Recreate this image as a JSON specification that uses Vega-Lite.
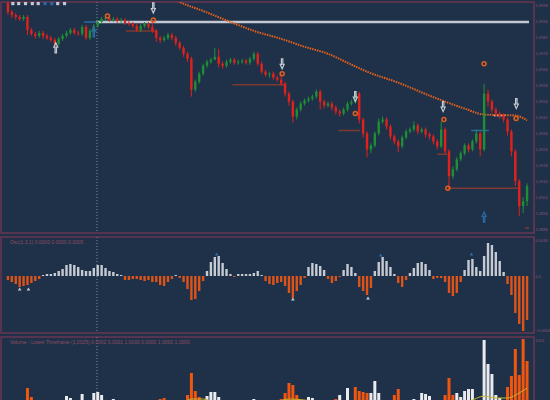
{
"$schema":"https://vega.github.io/schema/vega-lite/v6.json",
"background":"#1e3148",
"padding":0,
"spacing":0,
"config":{"view":{"stroke":"#6a3452","strokeWidth":1.5},"axis":{"labelFont":"Liberation Sans","labelFontSize":4,"labelColor":"#8a5670","domainColor":"#5e3450","ticks":false,"grid":false,"labelPadding":1},"text":{"font":"Liberation Sans"}},
"datasets":{
"bars":[
{"i":0,"o":10999.5,"h":11000,"l":10993.5,"c":10995,"osc":-4},
{"i":1,"o":10995,"h":10996,"l":10992,"c":10993.5,"osc":-6},
{"i":2,"o":10993.5,"h":10994.5,"l":10991,"c":10992.5,"osc":-8},
{"i":3,"o":10992.5,"h":10993.5,"l":10990.5,"c":10991.5,"osc":-11},
{"i":4,"o":10991.5,"h":10993.5,"l":10990.5,"c":10992.5,"osc":-10},
{"i":5,"o":10992.5,"h":10993.5,"l":10983.5,"c":10986,"osc":-9},
{"i":6,"o":10986,"h":10987,"l":10983,"c":10984,"osc":-7},
{"i":7,"o":10984,"h":10985,"l":10981.5,"c":10983,"osc":-5},
{"i":8,"o":10983,"h":10985.5,"l":10982,"c":10984.5,"osc":-3},
{"i":9,"o":10984.5,"h":10985.5,"l":10981.5,"c":10983,"osc":1},
{"i":10,"o":10983,"h":10984,"l":10981,"c":10982,"osc":2},
{"i":11,"o":10982,"h":10983,"l":10980,"c":10981,"osc":2},
{"i":12,"o":10981,"h":10982,"l":10977.5,"c":10979,"osc":3},
{"i":13,"o":10979,"h":10982.5,"l":10978,"c":10981.5,"osc":5},
{"i":14,"o":10981.5,"h":10984,"l":10980.5,"c":10983,"osc":7},
{"i":15,"o":10983,"h":10985.5,"l":10982,"c":10984.5,"osc":11},
{"i":16,"o":10984.5,"h":10987,"l":10983.5,"c":10986,"osc":12},
{"i":17,"o":10986,"h":10987,"l":10983.5,"c":10984.5,"osc":11},
{"i":18,"o":10984.5,"h":10985.5,"l":10983,"c":10984,"osc":9},
{"i":19,"o":10984,"h":10988.5,"l":10983,"c":10987.5,"osc":6},
{"i":20,"o":10987.5,"h":10988.5,"l":10981,"c":10982,"osc":5},
{"i":21,"o":10982,"h":10986.5,"l":10981,"c":10985.5,"osc":5},
{"i":22,"o":10985.5,"h":10989,"l":10984.5,"c":10988,"osc":8},
{"i":23,"o":10988,"h":10991,"l":10987,"c":10990,"osc":11},
{"i":24,"o":10990,"h":10992.5,"l":10989,"c":10991.5,"osc":11},
{"i":25,"o":10991.5,"h":10993,"l":10990.5,"c":10992,"osc":8},
{"i":26,"o":10992,"h":10993,"l":10990,"c":10991,"osc":5},
{"i":27,"o":10991,"h":10992.5,"l":10990,"c":10991.5,"osc":4},
{"i":28,"o":10991.5,"h":10992.5,"l":10989.5,"c":10990.5,"osc":2},
{"i":29,"o":10990.5,"h":10992,"l":10989.5,"c":10991,"osc":1},
{"i":30,"o":10991,"h":10992,"l":10988.5,"c":10989.5,"osc":-4},
{"i":31,"o":10989.5,"h":10990.5,"l":10988,"c":10989,"osc":-4},
{"i":32,"o":10989,"h":10990,"l":10987,"c":10988,"osc":-3},
{"i":33,"o":10988,"h":10989,"l":10985,"c":10986,"osc":-3},
{"i":34,"o":10986,"h":10989,"l":10985,"c":10988,"osc":-4},
{"i":35,"o":10988,"h":10990,"l":10987,"c":10989,"osc":-5},
{"i":36,"o":10989,"h":10990,"l":10986.5,"c":10987.5,"osc":-4},
{"i":37,"o":10987.5,"h":10991,"l":10984.5,"c":10985.5,"osc":-6},
{"i":38,"o":10985.5,"h":10986.5,"l":10980,"c":10982,"osc":-6},
{"i":39,"o":10982,"h":10983,"l":10979.5,"c":10981,"osc":-9},
{"i":40,"o":10981,"h":10983,"l":10980,"c":10982,"osc":-10},
{"i":41,"o":10982,"h":10984.5,"l":10981,"c":10983.5,"osc":-6},
{"i":42,"o":10983.5,"h":10984.5,"l":10981,"c":10982,"osc":-3},
{"i":43,"o":10982,"h":10983,"l":10978,"c":10979.5,"osc":1},
{"i":44,"o":10979.5,"h":10980.5,"l":10976,"c":10977,"osc":-2},
{"i":45,"o":10977,"h":10978,"l":10972.5,"c":10974,"osc":-6},
{"i":46,"o":10974,"h":10975,"l":10970,"c":10971.5,"osc":-13},
{"i":47,"o":10971.5,"h":10972.5,"l":10952.5,"c":10956,"osc":-24},
{"i":48,"o":10956,"h":10961,"l":10955,"c":10960,"osc":-23},
{"i":49,"o":10960,"h":10965,"l":10959,"c":10964,"osc":-15},
{"i":50,"o":10964,"h":10969,"l":10963,"c":10968,"osc":-5},
{"i":51,"o":10968,"h":10971,"l":10967,"c":10970,"osc":5},
{"i":52,"o":10970,"h":10972,"l":10969,"c":10971,"osc":14},
{"i":53,"o":10971,"h":10977,"l":10971,"c":10972.5,"osc":19},
{"i":54,"o":10972.5,"h":10976.5,"l":10967,"c":10969,"osc":20},
{"i":55,"o":10969,"h":10970,"l":10966.5,"c":10968,"osc":13},
{"i":56,"o":10968,"h":10971,"l":10967,"c":10970,"osc":7},
{"i":57,"o":10970,"h":10972,"l":10969,"c":10971,"osc":2},
{"i":58,"o":10971,"h":10972,"l":10968.5,"c":10969.5,"osc":-1},
{"i":59,"o":10969.5,"h":10971,"l":10968.5,"c":10970,"osc":2},
{"i":60,"o":10970,"h":10971.5,"l":10969,"c":10970.5,"osc":2},
{"i":61,"o":10970.5,"h":10971.5,"l":10968.5,"c":10969.5,"osc":2},
{"i":62,"o":10969.5,"h":10972.5,"l":10968.5,"c":10971.5,"osc":2},
{"i":63,"o":10971.5,"h":10975,"l":10970.5,"c":10974,"osc":3},
{"i":64,"o":10974,"h":10975,"l":10968,"c":10969,"osc":5},
{"i":65,"o":10969,"h":10970,"l":10964,"c":10965,"osc":1},
{"i":66,"o":10965,"h":10966,"l":10962.5,"c":10963.5,"osc":-5},
{"i":67,"o":10963.5,"h":10965,"l":10962,"c":10964,"osc":-8},
{"i":68,"o":10964,"h":10965,"l":10961,"c":10962,"osc":-9},
{"i":69,"o":10962,"h":10963,"l":10960,"c":10961,"osc":-7},
{"i":70,"o":10961,"h":10964,"l":10958,"c":10959,"osc":-6},
{"i":71,"o":10959,"h":10960,"l":10952.5,"c":10954,"osc":-10},
{"i":72,"o":10954,"h":10955,"l":10948,"c":10950,"osc":-17},
{"i":73,"o":10950,"h":10951,"l":10939.5,"c":10942.5,"osc":-22},
{"i":74,"o":10942.5,"h":10947,"l":10941,"c":10946,"osc":-15},
{"i":75,"o":10946,"h":10950,"l":10945,"c":10949,"osc":-9},
{"i":76,"o":10949,"h":10951.5,"l":10948,"c":10950.5,"osc":-2},
{"i":77,"o":10950.5,"h":10952.5,"l":10949.5,"c":10951.5,"osc":9},
{"i":78,"o":10951.5,"h":10953.5,"l":10950.5,"c":10952.5,"osc":13},
{"i":79,"o":10952.5,"h":10956,"l":10951.5,"c":10955,"osc":12},
{"i":80,"o":10955,"h":10956,"l":10946,"c":10950,"osc":10},
{"i":81,"o":10950,"h":10951,"l":10946.5,"c":10948,"osc":6},
{"i":82,"o":10948,"h":10950,"l":10947,"c":10949,"osc":-3},
{"i":83,"o":10949,"h":10950,"l":10945.5,"c":10947,"osc":-7},
{"i":84,"o":10947,"h":10948,"l":10943.5,"c":10945,"osc":-5},
{"i":85,"o":10945,"h":10946,"l":10942.5,"c":10944,"osc":-1},
{"i":86,"o":10944,"h":10947,"l":10943,"c":10946,"osc":6},
{"i":87,"o":10946,"h":10950,"l":10945,"c":10949,"osc":12},
{"i":88,"o":10949,"h":10951,"l":10948,"c":10950,"osc":9},
{"i":89,"o":10950,"h":10955,"l":10949,"c":10954,"osc":3},
{"i":90,"o":10954,"h":10955,"l":10939,"c":10941,"osc":-11},
{"i":91,"o":10941,"h":10942,"l":10932,"c":10934,"osc":-15},
{"i":92,"o":10934,"h":10935,"l":10922,"c":10926,"osc":-19},
{"i":93,"o":10926,"h":10929,"l":10924,"c":10928,"osc":-12},
{"i":94,"o":10928,"h":10935,"l":10927,"c":10934,"osc":5},
{"i":95,"o":10934,"h":10941.5,"l":10933,"c":10940,"osc":14},
{"i":96,"o":10940,"h":10942.5,"l":10939,"c":10941,"osc":19},
{"i":97,"o":10941,"h":10942,"l":10936,"c":10937.5,"osc":15},
{"i":98,"o":10937.5,"h":10938.5,"l":10931,"c":10932.5,"osc":9},
{"i":99,"o":10932.5,"h":10933.5,"l":10928.5,"c":10930,"osc":2},
{"i":100,"o":10930,"h":10931,"l":10924.5,"c":10927.5,"osc":-7},
{"i":101,"o":10927.5,"h":10933,"l":10926.5,"c":10932,"osc":-11},
{"i":102,"o":10932,"h":10936,"l":10931,"c":10935,"osc":-4},
{"i":103,"o":10935,"h":10937,"l":10934,"c":10936,"osc":3},
{"i":104,"o":10936,"h":10940,"l":10935,"c":10938,"osc":8},
{"i":105,"o":10938,"h":10939,"l":10933.5,"c":10935,"osc":13},
{"i":106,"o":10935,"h":10937,"l":10934,"c":10936,"osc":14},
{"i":107,"o":10936,"h":10937,"l":10932,"c":10933.5,"osc":12},
{"i":108,"o":10933.5,"h":10934.5,"l":10931,"c":10932.5,"osc":6},
{"i":109,"o":10932.5,"h":10933.5,"l":10928.5,"c":10930,"osc":-3},
{"i":110,"o":10930,"h":10931,"l":10926,"c":10927.5,"osc":-2},
{"i":111,"o":10927.5,"h":10940,"l":10926.5,"c":10936,"osc":-2},
{"i":112,"o":10936,"h":10937,"l":10923.5,"c":10925,"osc":-6},
{"i":113,"o":10925,"h":10926,"l":10906,"c":10912.5,"osc":-17},
{"i":114,"o":10912.5,"h":10917.5,"l":10911,"c":10916,"osc":-20},
{"i":115,"o":10916,"h":10922,"l":10915,"c":10921,"osc":-17},
{"i":116,"o":10921,"h":10925,"l":10920,"c":10924,"osc":-6},
{"i":117,"o":10924,"h":10929,"l":10923,"c":10928,"osc":6},
{"i":118,"o":10928,"h":10929,"l":10924.5,"c":10926,"osc":16},
{"i":119,"o":10926,"h":10931,"l":10925,"c":10930,"osc":17},
{"i":120,"o":10930,"h":10936,"l":10929,"c":10934,"osc":9},
{"i":121,"o":10934,"h":10935,"l":10922.5,"c":10926,"osc":5},
{"i":122,"o":10926,"h":10959,"l":10925,"c":10954,"osc":20},
{"i":123,"o":10954,"h":10956,"l":10947.5,"c":10950,"osc":33},
{"i":124,"o":10950,"h":10951,"l":10944.5,"c":10946,"osc":31},
{"i":125,"o":10946,"h":10947,"l":10942.5,"c":10944,"osc":24},
{"i":126,"o":10944,"h":10945,"l":10941.5,"c":10943,"osc":15},
{"i":127,"o":10943,"h":10944,"l":10939.5,"c":10941,"osc":4},
{"i":128,"o":10941,"h":10942,"l":10933,"c":10935,"osc":-8},
{"i":129,"o":10935,"h":10936,"l":10922.5,"c":10925,"osc":-19},
{"i":130,"o":10925,"h":10926,"l":10907.5,"c":10910,"osc":-37},
{"i":131,"o":10910,"h":10911,"l":10892.5,"c":10897.5,"osc":-48},
{"i":132,"o":10897.5,"h":10902,"l":10894,"c":10900,"osc":-55},
{"i":133,"o":10900,"h":10909,"l":10897.5,"c":10907.5,"osc":-44}
],
"ma":[{"i":43,"p":11001},{"i":44,"p":11000},{"i":50,"p":10995.5},{"i":57,"p":10990},{"i":63,"p":10985.5},{"i":70,"p":10981.5},{"i":76,"p":10977.5},{"i":82,"p":10974},{"i":87,"p":10969.5},{"i":92,"p":10965},{"i":100,"p":10959.5},{"i":108,"p":10953},{"i":117,"p":10946.5},{"i":122,"p":10943.5},{"i":130,"p":10943},{"i":133,"p":10940.5}],
"levels":[{"a":19.5,"b":22.7,"p":10990,"k":"blue"},{"a":22.7,"b":133.5,"p":10990,"k":"white"},{"a":30.2,"b":38.2,"p":10985.5,"k":"brown"},{"a":57.5,"b":71.2,"p":10958.5,"k":"brown"},{"a":84.7,"b":90.2,"p":10935.5,"k":"brown"},{"a":110,"b":112.5,"p":10923.5,"k":"brown"},{"a":112.7,"b":131.2,"p":10906.5,"k":"brown"},{"a":132.5,"b":133.5,"p":10886.5,"k":"brown"},{"a":118.7,"b":123.2,"p":10935.5,"k":"blue"},{"a":124.5,"b":127.5,"p":10943,"k":"dash"}],
"arrows":[{"i":37.25,"p":10997,"d":"down","k":"white"},{"i":70.25,"p":10969,"d":"down","k":"white"},{"i":89,"p":10952.5,"d":"down","k":"white"},{"i":111.5,"p":10947.5,"d":"down","k":"white"},{"i":130.25,"p":10949,"d":"down","k":"white"},{"i":12.25,"p":10977,"d":"up","k":"white"},{"i":22,"p":10985,"d":"up","k":"blue"},{"i":122,"p":10892,"d":"up","k":"blue"}],
"rings":[{"i":25.5,"p":10993},{"i":37.25,"p":10991},{"i":70.25,"p":10964},{"i":89,"p":10944},{"i":111.7,"p":10941},{"i":122,"p":10969},{"i":112.7,"p":10906.5},{"i":130.2,"p":10941.5}],
"squares":[{"i":1.25,"t":"yellow"},{"i":2.75,"t":"yellow"},{"i":4.5,"t":"white"},{"i":6.25,"t":"white"},{"i":7.75,"t":"yellow"},{"i":9.5,"t":"orange"},{"i":11.25,"t":"orange"},{"i":12.75,"t":"yellow"},{"i":14.5,"t":"white"}],
"oscmarks":[{"i":3,"osc":-13,"k":"white"},{"i":5.25,"osc":-13,"k":"white"},{"i":73,"osc":-23,"k":"white"},{"i":92.25,"osc":-22,"k":"white"},{"i":53.5,"osc":22,"k":"orange"},{"i":95.5,"osc":21,"k":"orange"},{"i":118.75,"osc":22,"k":"orange"}],
"volume":[{"i":1,"v":5,"s":"sell"},{"i":2,"v":3,"s":"buy"},{"i":5,"v":17,"s":"sell"},{"i":6,"v":8,"s":"sell"},{"i":15,"v":9,"s":"buy"},{"i":16,"v":7,"s":"buy"},{"i":19,"v":11,"s":"buy"},{"i":22,"v":12,"s":"buy"},{"i":23,"v":13,"s":"buy"},{"i":24,"v":10,"s":"buy"},{"i":27,"v":6,"s":"buy"},{"i":39,"v":6,"s":"sell"},{"i":40,"v":7,"s":"sell"},{"i":46,"v":10,"s":"sell"},{"i":47,"v":32,"s":"sell"},{"i":48,"v":14,"s":"sell"},{"i":49,"v":8,"s":"sell"},{"i":51,"v":9,"s":"buy"},{"i":52,"v":13,"s":"buy"},{"i":53,"v":13,"s":"buy"},{"i":54,"v":8,"s":"buy"},{"i":63,"v":6,"s":"buy"},{"i":70,"v":6,"s":"sell"},{"i":71,"v":12,"s":"sell"},{"i":72,"v":22,"s":"sell"},{"i":73,"v":20,"s":"sell"},{"i":74,"v":10,"s":"sell"},{"i":76,"v":4,"s":"buy"},{"i":77,"v":8,"s":"buy"},{"i":78,"v":7,"s":"buy"},{"i":82,"v":4,"s":"buy"},{"i":84,"v":6,"s":"sell"},{"i":85,"v":10,"s":"buy"},{"i":87,"v":17,"s":"buy"},{"i":89,"v":18,"s":"sell"},{"i":90,"v":14,"s":"sell"},{"i":91,"v":13,"s":"sell"},{"i":92,"v":12,"s":"sell"},{"i":93,"v":12,"s":"buy"},{"i":94,"v":24,"s":"buy"},{"i":95,"v":12,"s":"buy"},{"i":99,"v":10,"s":"sell"},{"i":100,"v":16,"s":"sell"},{"i":104,"v":6,"s":"buy"},{"i":106,"v":12,"s":"buy"},{"i":107,"v":11,"s":"buy"},{"i":108,"v":9,"s":"buy"},{"i":110,"v":4,"s":"buy"},{"i":112,"v":10,"s":"sell"},{"i":113,"v":27,"s":"sell"},{"i":114,"v":10,"s":"sell"},{"i":115,"v":12,"s":"buy"},{"i":116,"v":8,"s":"buy"},{"i":117,"v":14,"s":"buy"},{"i":118,"v":16,"s":"buy"},{"i":119,"v":16,"s":"buy"},{"i":121,"v":5,"s":"buy"},{"i":122,"v":65,"s":"buy"},{"i":123,"v":41,"s":"buy"},{"i":124,"v":31,"s":"buy"},{"i":125,"v":10,"s":"buy"},{"i":126,"v":7,"s":"buy"},{"i":128,"v":18,"s":"sell"},{"i":129,"v":29,"s":"sell"},{"i":130,"v":56,"s":"sell"},{"i":131,"v":30,"s":"sell"},{"i":132,"v":66,"s":"sell"},{"i":133,"v":44,"s":"sell"}],
"volma":[{"i":45,"v":2},{"i":47,"v":6},{"i":50,"v":6},{"i":53,"v":3},{"i":68,"v":3},{"i":72,"v":6},{"i":76,"v":5},{"i":80,"v":3},{"i":112,"v":3},{"i":118,"v":4},{"i":122,"v":9},{"i":125,"v":7},{"i":128,"v":7},{"i":131,"v":12},{"i":133,"v":17}],
"labels2":[{"i":0.5,"osc":34,"t":"Osc(1,3,1) 0.0000 0.0000 0.0005"}],
"labels3":[{"i":0.5,"v":63,"t":"Volume - Lower Timeframe (1,0025) 0.0002 0.0001 1.0000 0.0000 1.0000 1.0000"}]
},
"vconcat":[
{"width":533,"height":231,
"layer":[
{"data":{"name":"squares"},"mark":{"type":"rule","strokeDash":[1,2],"color":"#56627a"},"encoding":{"x":{"datum":22.75,"type":"quantitative","scale":{"domain":[-0.5,133.5],"nice":false,"zero":false},"axis":null}}},
{"data":{"name":"levels"},"mark":{"type":"rule"},"encoding":{
"x":{"field":"a","type":"quantitative","scale":{"domain":[-0.5,133.5],"nice":false,"zero":false},"axis":null},
"x2":{"field":"b"},
"y":{"field":"p","type":"quantitative","scale":{"domain":[10884,11000],"nice":false,"zero":false},"title":null,"axis":{"orient":"right","values":[10998,10990,10982,10974,10966,10958,10950,10942,10934,10926,10918,10910,10902,10894,10886],"labelExpr":"format(datum.value/10000,'.4f')"}},
"color":{"field":"k","type":"nominal","scale":{"domain":["white","blue","brown","dash"],"range":["#c3c8d2","#2c6aa6","#7e3a2e","#f4f6fa"]},"legend":null},
"strokeWidth":{"condition":{"test":"datum.k=='white'","value":2.5},"value":1.5},
"strokeDash":{"condition":{"test":"datum.k=='dash'","value":[2,1]},"value":[1,0]}}},
{"data":{"name":"ma"},"mark":{"type":"line","clip":true,"color":"#e8601c","strokeWidth":2,"strokeDash":[1.5,1],"interpolate":"monotone"},"encoding":{
"x":{"field":"i","type":"quantitative","scale":{"domain":[-0.5,133.5],"nice":false,"zero":false},"axis":null},
"y":{"field":"p","type":"quantitative","scale":{"domain":[10884,11000],"nice":false,"zero":false},"title":null,"axis":{"orient":"right","values":[10998,10990,10982,10974,10966,10958,10950,10942,10934,10926,10918,10910,10902,10894,10886],"labelExpr":"format(datum.value/10000,'.4f')"}}}},
{"data":{"name":"bars"},"mark":{"type":"rule","strokeWidth":1},"encoding":{
"x":{"field":"i","type":"quantitative","scale":{"domain":[-0.5,133.5],"nice":false,"zero":false},"axis":null},
"y":{"field":"l","type":"quantitative","scale":{"domain":[10884,11000],"nice":false,"zero":false},"title":null,"axis":{"orient":"right","values":[10998,10990,10982,10974,10966,10958,10950,10942,10934,10926,10918,10910,10902,10894,10886],"labelExpr":"format(datum.value/10000,'.4f')"}},
"y2":{"field":"h"},
"color":{"condition":{"test":"datum.c >= datum.o","value":"#1f8f35"},"value":"#e3211c"}}},
{"data":{"name":"bars"},"mark":{"type":"bar","size":2.4},"encoding":{
"x":{"field":"i","type":"quantitative","scale":{"domain":[-0.5,133.5],"nice":false,"zero":false},"axis":null},
"y":{"field":"o","type":"quantitative","scale":{"domain":[10884,11000],"nice":false,"zero":false},"title":null,"axis":{"orient":"right","values":[10998,10990,10982,10974,10966,10958,10950,10942,10934,10926,10918,10910,10902,10894,10886],"labelExpr":"format(datum.value/10000,'.4f')"}},
"y2":{"field":"c"},
"color":{"condition":{"test":"datum.c >= datum.o","value":"#1f8f35"},"value":"#e3211c"}}},
{"data":{"name":"squares"},"mark":{"type":"point","shape":"square","filled":true,"size":10,"opacity":1,"clip":true},"encoding":{
"x":{"field":"i","type":"quantitative","scale":{"domain":[-0.5,133.5],"nice":false,"zero":false},"axis":null},
"y":{"datum":10999.2,"type":"quantitative","scale":{"domain":[10884,11000],"nice":false,"zero":false},"title":null,"axis":{"orient":"right","values":[10998,10990,10982,10974,10966,10958,10950,10942,10934,10926,10918,10910,10902,10894,10886],"labelExpr":"format(datum.value/10000,'.4f')"}},
"color":{"field":"t","type":"nominal","scale":{"domain":["yellow","white","orange"],"range":["#f4d31c","#ececec","#f26a12"]},"legend":null}}},
{"data":{"name":"arrows"},"mark":{"type":"point","shape":"arrow","filled":false,"size":100,"strokeWidth":1.2,"opacity":1,"clip":true},"encoding":{
"x":{"field":"i","type":"quantitative","scale":{"domain":[-0.5,133.5],"nice":false,"zero":false},"axis":null},
"y":{"field":"p","type":"quantitative","scale":{"domain":[10884,11000],"nice":false,"zero":false},"title":null,"axis":{"orient":"right","values":[10998,10990,10982,10974,10966,10958,10950,10942,10934,10926,10918,10910,10902,10894,10886],"labelExpr":"format(datum.value/10000,'.4f')"}},
"angle":{"condition":{"test":"datum.d=='down'","value":180},"value":0},
"color":{"field":"k","type":"nominal","scale":{"domain":["white","blue"],"range":["#dfe3ea","#2f74b5"]},"legend":null}}},
{"data":{"name":"rings"},"mark":{"type":"point","shape":"circle","filled":false,"size":16,"strokeWidth":1.5,"color":"#e2601c","opacity":1,"clip":true},"encoding":{
"x":{"field":"i","type":"quantitative","scale":{"domain":[-0.5,133.5],"nice":false,"zero":false},"axis":null},
"y":{"field":"p","type":"quantitative","scale":{"domain":[10884,11000],"nice":false,"zero":false},"title":null,"axis":{"orient":"right","values":[10998,10990,10982,10974,10966,10958,10950,10942,10934,10926,10918,10910,10902,10894,10886],"labelExpr":"format(datum.value/10000,'.4f')"}}}}
]},
{"width":533,"height":96,
"layer":[
{"data":{"name":"squares"},"mark":{"type":"rule","strokeDash":[1,2],"color":"#56627a"},"encoding":{"x":{"datum":22.75,"type":"quantitative","scale":{"domain":[-0.5,133.5],"nice":false,"zero":false},"axis":null}}},
{"data":{"name":"bars"},"mark":{"type":"bar","size":2.4},"encoding":{
"x":{"field":"i","type":"quantitative","scale":{"domain":[-0.5,133.5],"nice":false,"zero":false},"axis":null},
"y":{"field":"osc","type":"quantitative","scale":{"domain":[-57,39],"nice":false},"title":null,"axis":{"orient":"right","values":[36,0,-54],"labelExpr":"datum.value==0 ? '0.0' : format(datum.value/10000,'.4f')"}},
"color":{"condition":{"test":"datum.osc > 0","value":"#c6cbd3"},"value":"#dd541b"}}},
{"data":{"name":"oscmarks"},"mark":{"type":"point","shape":"triangle-up","filled":true,"size":14,"opacity":1},"encoding":{
"x":{"field":"i","type":"quantitative","scale":{"domain":[-0.5,133.5],"nice":false,"zero":false},"axis":null},
"y":{"field":"osc","type":"quantitative","scale":{"domain":[-57,39],"nice":false},"title":null,"axis":{"orient":"right","values":[36,0,-54],"labelExpr":"datum.value==0 ? '0.0' : format(datum.value/10000,'.4f')"}},
"color":{"field":"k","type":"nominal","scale":{"domain":["white","orange"],"range":["#e8ebf0","#e8501a"]},"legend":null}}},
{"data":{"name":"labels2"},"mark":{"type":"text","align":"left","baseline":"middle","fontSize":5,"color":"#8e4d63"},"encoding":{
"x":{"field":"i","type":"quantitative","scale":{"domain":[-0.5,133.5],"nice":false,"zero":false},"axis":null},
"y":{"field":"osc","type":"quantitative","scale":{"domain":[-57,39],"nice":false},"title":null,"axis":{"orient":"right","values":[36,0,-54],"labelExpr":"datum.value==0 ? '0.0' : format(datum.value/10000,'.4f')"}},
"text":{"field":"t"}}}
]},
{"width":533,"height":68,
"layer":[
{"data":{"name":"squares"},"mark":{"type":"rule","strokeDash":[1,2],"color":"#56627a"},"encoding":{"x":{"datum":22.75,"type":"quantitative","scale":{"domain":[-0.5,133.5],"nice":false,"zero":false},"axis":null}}},
{"data":{"name":"volume"},"mark":{"type":"bar","size":3},"encoding":{
"x":{"field":"i","type":"quantitative","scale":{"domain":[-0.5,133.5],"nice":false,"zero":false},"axis":null},
"y":{"field":"v","type":"quantitative","scale":{"domain":[0,68],"nice":false},"title":null,"axis":{"orient":"right","values":[65],"labelExpr":"format(datum.value*15.7,'d')"}},
"color":{"condition":{"test":"datum.s=='sell'","value":"#f0560f"},"value":"#e9ebef"}}},
{"data":{"name":"volma"},"mark":{"type":"line","color":"#c9b52a","strokeWidth":1,"interpolate":"monotone"},"encoding":{
"x":{"field":"i","type":"quantitative","scale":{"domain":[-0.5,133.5],"nice":false,"zero":false},"axis":null},
"y":{"field":"v","type":"quantitative","scale":{"domain":[0,68],"nice":false},"title":null,"axis":{"orient":"right","values":[65],"labelExpr":"format(datum.value*15.7,'d')"}}}},
{"data":{"name":"labels3"},"mark":{"type":"text","align":"left","baseline":"middle","fontSize":5,"color":"#8e4d63"},"encoding":{
"x":{"field":"i","type":"quantitative","scale":{"domain":[-0.5,133.5],"nice":false,"zero":false},"axis":null},
"y":{"field":"v","type":"quantitative","scale":{"domain":[0,68],"nice":false},"title":null,"axis":{"orient":"right","values":[65],"labelExpr":"format(datum.value*15.7,'d')"}},
"text":{"field":"t"}}}
]}
]
}
